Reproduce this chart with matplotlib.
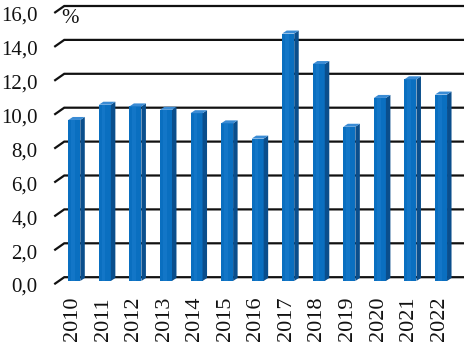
import matplotlib
matplotlib.use("Agg")
import matplotlib.pyplot as plt
from matplotlib.patches import Polygon, Rectangle

years = ["2010", "2011", "2012", "2013", "2014", "2015", "2016",
         "2017", "2018", "2019", "2020", "2021", "2022"]
values = [9.5, 10.4, 10.3, 10.1, 9.9, 9.3, 8.4, 14.6, 12.8, 9.1, 10.8, 11.9, 11.0]
yticks = [0, 2, 4, 6, 8, 10, 12, 14, 16]
ytick_labels = ["0,0", "2,0", "4,0", "6,0", "8,0", "10,0", "12,0", "14,0", "16,0"]
unit_label = "%"

W, H = 470, 344
fig = plt.figure(figsize=(W / 100, H / 100), dpi=100)
ax = fig.add_axes([0, 0, 1, 1])
ax.set_xlim(-2.431, 12.948)
ax.set_ylim(-3.717, 16.578)
ax.axis("off")

px_x = 30.56   # pixels per category
px_y = 16.95   # pixels per unit

# 3D offsets (in data units)
back_dy = 3.8 / px_y
front_dy = -3.2 / px_y
back_dx = 8.3 / px_x
front_dx = -1.7 / px_x
grid_right = (464 - 74.3) / px_x

font = "Liberation Serif"
fs = 16

for v, lab in zip(yticks, ytick_labels):
    yb = v + back_dy
    yf = v + front_dy
    ax.plot([front_dx - 0.6, back_dx - 0.6, grid_right],
            [yf, yb, yb], color="#111111", lw=1.6, solid_capstyle="butt",
            solid_joinstyle="miter", zorder=1)
    ax.text((37.5 - 74.3) / px_x, yf - 0.05, lab, ha="right", va="center_baseline",
            fontsize=15, family=font, color="#111111")

ax.text(-0.15, 16 + back_dy - 0.75, unit_label, ha="center", va="center",
        fontsize=15, family=font, color="#111111")

bw = 12 / px_x
sdx = 4.5 / px_x
sdy = 3.0 / px_y
front_col = "#0a6fc0"
side_col = "#0a4e8c"
top_col = "#3a8bd4"

bars = ax.bar(range(len(values)), values, width=bw, color=front_col,
              linewidth=0, zorder=3)
for b, v in zip(bars, values):
    x0 = b.get_x()
    x1 = x0 + b.get_width()
    side = Polygon([[x1, 0], [x1 + sdx, sdy], [x1 + sdx, v + sdy], [x1, v]],
                   closed=True, facecolor=side_col, edgecolor="none", zorder=3)
    top = Polygon([[x0, v], [x0 + sdx, v + sdy], [x1 + sdx, v + sdy], [x1, v]],
                  closed=True, facecolor=top_col, edgecolor="none", zorder=3)
    ax.add_patch(side)
    ax.add_patch(top)
    ax.add_patch(Rectangle((x0 + bw * 0.25, 0), bw * 0.3, v, facecolor="#1a7ccc",
                           edgecolor="none", zorder=3.5, alpha=0.6))

for i, y in enumerate(years):
    ax.text(i - 0.06, (281 - 297) / px_y, y, rotation=90, ha="center", va="top",
            fontsize=fs, family=font, color="#111111")

fig.savefig("out.png", dpi=100)
